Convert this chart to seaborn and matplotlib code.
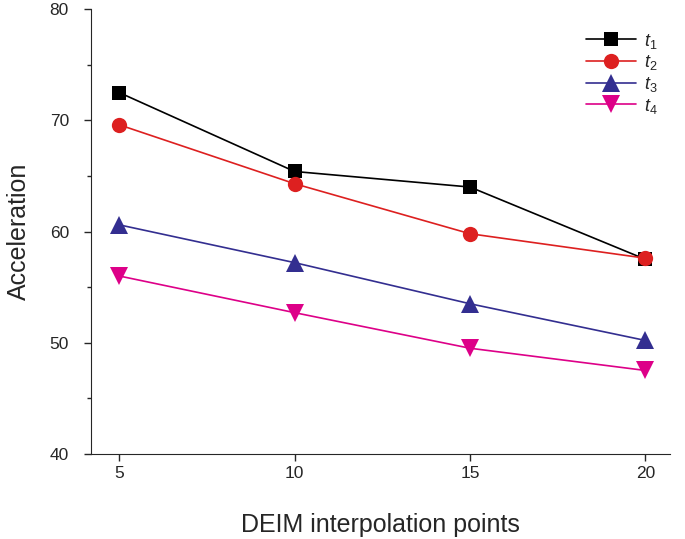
import pandas as pd
import matplotlib
matplotlib.use('Agg')
import matplotlib.pyplot as plt
from matplotlib.ticker import MultipleLocator
import seaborn as sns

# data
points = [5, 10, 15, 20]
t1 = [72.5, 65.4, 64.0, 57.5]
t2 = [69.6, 64.3, 59.8, 57.6]
t3 = [60.6, 57.2, 53.5, 50.2]
t4 = [56.0, 52.7, 49.5, 47.5]
series_names = ['$t_1$', '$t_2$', '$t_3$', '$t_4$']

df = pd.DataFrame({
    'x': points * 4,
    'y': t1 + t2 + t3 + t4,
    'series': [n for n in series_names for _ in points],
})

sns.set_style('ticks')
plt.rcParams['font.family'] = ['Liberation Sans', 'DejaVu Sans']
plt.rcParams['mathtext.fontset'] = 'custom'
plt.rcParams['mathtext.it'] = 'Liberation Sans:italic'
plt.rcParams['mathtext.rm'] = 'Liberation Sans'

colors = ['#000000', '#dd2020', '#332e90', '#dd0088']
markers = ['s', 'o', '^', 'v']
msizes = [10.5, 11, 13, 13]

fig = plt.figure(figsize=(6.85, 5.39), dpi=100)
ax = fig.add_axes([0.133, 0.158, 0.845, 0.825])

sns.lineplot(data=df, x='x', y='y', hue='series', style='series',
             palette=colors, markers=markers, dashes=False,
             markersize=11, markeredgewidth=0, linewidth=1.2, ax=ax)
for line, ms in zip(ax.lines[:4], msizes):
    line.set_markersize(ms)

ax.set_xlim(4.2, 20.7)
ax.set_ylim(40, 80)
ax.set_xticks(points)
ax.set_yticks([40, 50, 60, 70, 80])
ax.yaxis.set_minor_locator(MultipleLocator(5))
ax.tick_params(axis='both', labelsize=12.5, direction='out', length=5, width=1)
ax.tick_params(axis='y', which='major', pad=11)
ax.tick_params(axis='y', which='minor', length=3, width=1)
ax.set_xlabel('DEIM interpolation points', fontsize=18, labelpad=23)
ax.set_ylabel('Acceleration', fontsize=18, labelpad=13)
for s in ['top', 'right']:
    ax.spines[s].set_visible(False)

leg = ax.legend(frameon=False, loc='upper right', fontsize=13, handlelength=2.8,
                handletextpad=0.4, borderaxespad=0.3, labelspacing=0.15,
                bbox_to_anchor=(1.0, 0.978))
for h, ms in zip(leg.legend_handles, msizes):
    h.set_markersize(ms)

plt.savefig('out.png', dpi=100)
